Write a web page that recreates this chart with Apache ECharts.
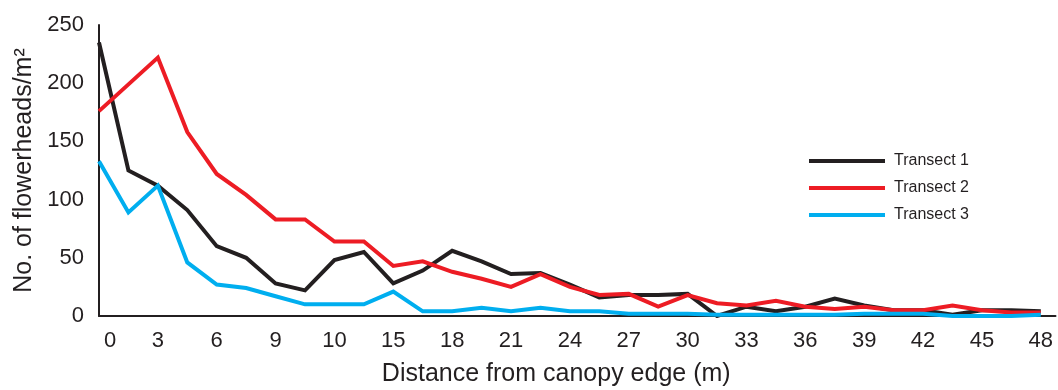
<!DOCTYPE html>
<html>
<head>
<meta charset="utf-8">
<script src="https://cdn.jsdelivr.net/npm/echarts@6/dist/echarts.min.js"></script>
<style>
  html, body { margin: 0; padding: 0; background: #fff; }
  #chart { width: 1058px; height: 390px; }
</style>
</head>
<body>
<div id="chart"></div>
<script>
// distance from canopy edge (m), one sample every 1.5 m
const distances = [0, 1.5, 3, 4.5, 6, 7.5, 9, 10.5, 12, 13.5, 15, 16.5, 18, 19.5, 21, 22.5, 24,
  25.5, 27, 28.5, 30, 31.5, 33, 34.5, 36, 37.5, 39, 40.5, 42, 43.5, 45, 46.5, 48]

// tick labels as printed (note the "10" where 12 would be)
const xTickLabels = ['0', '3', '6', '9', '10', '15', '18', '21', '24', '27', '30', '33', '36', '39', '42', '45', '48']

const transect1 = [235, 125, 112, 91, 60, 50, 28, 22, 48, 55, 28, 39, 56, 47, 36, 37, 27,
  16, 18, 18, 19, 0, 8, 4, 8, 15, 9, 5, 5, 1, 5, 5, 4]
const transect2 = [176, 199, 222, 158, 122, 104, 83, 83, 64, 64, 43, 47, 38, 32, 25, 36, 25,
  18, 19, 8, 18, 11, 9, 13, 8, 6, 8, 5, 5, 9, 5, 3, 3]
const transect3 = [133, 89, 112, 46, 27, 24, 17, 10, 10, 10, 21, 4, 4, 7, 4, 7, 4,
  4, 2, 2, 2, 1, 1, 1, 1, 1, 2, 2, 2, 0, 0, 0, 1]

const FONT = '"Liberation Sans", Arial, Helvetica, sans-serif'

function pairs(values) {
  return values.map((v, i) => [distances[i], v])
}

function lineSeries(name, values, color) {
  return {
    name,
    type: 'line',
    data: pairs(values),
    symbol: 'none',
    lineStyle: { width: 4, color, join: 'miter' },
    itemStyle: { color }
  }
}

const chart = echarts.init(document.getElementById('chart'), null, { renderer: 'canvas' })

chart.setOption({
  animation: false,
  backgroundColor: '#ffffff',
  grid: { left: 99, right: 2.5, top: 25, bottom: 74, containLabel: false, outerBoundsMode: 'none' },
  legend: {
    left: 804,
    top: 147,
    orient: 'vertical',
    icon: 'rect',
    itemWidth: 76,
    itemHeight: 4,
    itemGap: 9,
    textStyle: { fontFamily: FONT, fontSize: 16, color: '#231f20', lineHeight: 18, padding: [0, 0, 0, 4] },
    data: ['Transect 1', 'Transect 2', 'Transect 3']
  },
  xAxis: {
    type: 'value',
    min: 0,
    max: 48.75,
    interval: 3,
    name: 'Distance from canopy edge (m)',
    nameLocation: 'middle',
    nameGap: 46,
    nameTextStyle: { fontFamily: FONT, fontSize: 25, color: '#231f20', padding: [0, 42, 0, 0] },
    axisLine: { show: true, onZero: false, lineStyle: { color: '#231f20', width: 2 } },
    axisTick: { show: false },
    splitLine: { show: false },
    axisLabel: {
      margin: 14,
      fontFamily: FONT,
      fontSize: 22,
      color: '#231f20',
      showMaxLabel: false,
      formatter: (value) => {
        const idx = Math.round(value / 3)
        if (Math.abs(value - idx * 3) > 1e-6 || idx >= xTickLabels.length) return ''
        return idx === 0 ? '{first|' + xTickLabels[0] + '}' : xTickLabels[idx]
      },
      rich: {
        first: { fontFamily: FONT, fontSize: 22, color: '#231f20', padding: [0, 0, 0, 22] }
      }
    }
  },
  yAxis: {
    type: 'value',
    min: 0,
    max: 250,
    interval: 50,
    name: 'No. of flowerheads/m²',
    nameLocation: 'middle',
    nameGap: 62,
    nameTextStyle: { fontFamily: FONT, fontSize: 25, color: '#231f20', padding: [0, 0, 0, 0] },
    axisLine: { show: true, lineStyle: { color: '#231f20', width: 2 } },
    axisTick: { show: false },
    splitLine: { show: false },
    axisLabel: { margin: 15, fontFamily: FONT, fontSize: 22, color: '#231f20' }
  },
  series: [
    lineSeries('Transect 1', transect1, '#231f20'),
    lineSeries('Transect 2', transect2, '#ed1c24'),
    lineSeries('Transect 3', transect3, '#00aeef')
  ]
})
</script>
</body>
</html>
